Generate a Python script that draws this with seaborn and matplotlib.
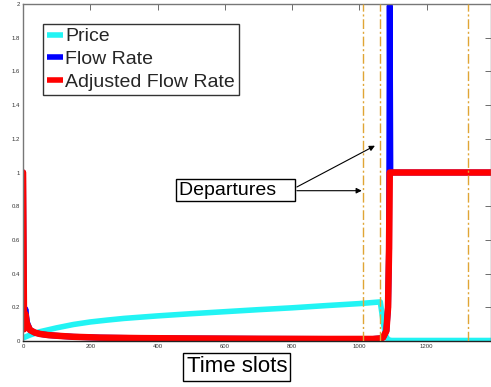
import matplotlib
matplotlib.use("Agg")
import matplotlib.pyplot as plt
import seaborn as sns

# Price signal over time slots
price_t = [0, 20, 50, 100, 150, 200, 250, 300, 400, 500, 600, 700, 800, 900,
           1000, 1062, 1070, 1078, 1085, 1095, 1391]
price_v = [0.018, 0.035, 0.055, 0.078, 0.098, 0.113, 0.124, 0.134, 0.149, 0.162,
           0.174, 0.186, 0.197, 0.21, 0.222, 0.232, 0.12, 0.03, 0.008, 0.003, 0.003]

# Flow rate (raw) over time slots
flow_t = [0, 3, 7, 12, 21, 35, 50, 75, 110, 150, 230, 350, 500, 700, 900, 1040,
          1060, 1070, 1080, 1085, 1088, 1090, 1092, 1391]
flow_v = [1.0, 0.07, 0.19, 0.11, 0.065, 0.05, 0.042, 0.035, 0.03, 0.025, 0.02,
          0.017, 0.015, 0.013, 0.012, 0.012, 0.015, 0.02, 0.06, 0.2, 0.55, 1.99,
          1.0, 1.0]

# Adjusted flow rate over time slots
adj_t = [0, 3, 7, 12, 21, 35, 50, 75, 110, 150, 230, 350, 500, 700, 900, 1040,
         1060, 1070, 1080, 1085, 1088, 1090, 1391]
adj_v = [1.0, 0.07, 0.16, 0.1, 0.065, 0.05, 0.042, 0.035, 0.03, 0.025, 0.02,
         0.017, 0.015, 0.013, 0.012, 0.012, 0.015, 0.02, 0.06, 0.2, 0.55, 1.0, 1.0]

# Departure instants marked by vertical lines
departures = [1010, 1061, 1322]

x_ticks = [0, 200, 400, 600, 800, 1000, 1200]
y_ticks = [0, 0.2, 0.4, 0.6, 0.8, 1, 1.2, 1.4, 1.6, 1.8, 2]
y_tick_labels = ["0", "0.2", "0.4", "0.6", "0.8", "1", "1.2", "1.4", "1.6", "1.8", "2"]

sns.set_theme(style="white")
plt.rcParams["font.family"] = ["Liberation Sans", "DejaVu Sans"]

fig = plt.figure(figsize=(4.91, 3.87), dpi=100)
fig.patch.set_facecolor("white")
ax = fig.add_axes([23 / 491, 1 - 341 / 387, (491 - 23) / 491, (341 - 4) / 387])

line_kw = dict(estimator=None, sort=False, solid_capstyle="round",
               solid_joinstyle="round")
sns.lineplot(x=price_t, y=price_v, ax=ax, color="#22F4F4", lw=4.0,
             label="Price", **line_kw)
sns.lineplot(x=flow_t, y=flow_v, ax=ax, color="#0000FF", lw=4.3,
             label="Flow Rate", **line_kw)
sns.lineplot(x=adj_t, y=adj_v, ax=ax, color="#FF0000", lw=4.7,
             label="Adjusted Flow Rate", **line_kw)

for d in departures:
    ax.axvline(d, color="#E0A535", lw=1.0, linestyle=(0, (7, 2, 1.5, 2)), zorder=5)

ax.set_xlim(0, 1391)
ax.set_ylim(0, 2)
ax.set_xticks(x_ticks)
ax.set_xticklabels([str(v) for v in x_ticks])
ax.set_yticks(y_ticks)
ax.set_yticklabels(y_tick_labels)
ax.tick_params(direction="in", length=4, width=0.6, labelsize=4.3,
               colors="#555555", labelcolor="#333333", top=True, right=True,
               pad=2)
for name, sp in ax.spines.items():
    sp.set_visible(True)
    sp.set_linewidth(1.0)
    sp.set_color("#777777")
ax.spines["bottom"].set_color("#222222")

leg = ax.legend(loc="upper left", bbox_to_anchor=(0.043, 0.941),
                borderaxespad=0, fontsize=14, frameon=True, fancybox=False,
                handlelength=0.8, handletextpad=0.15, labelspacing=0.26,
                borderpad=0.2)
leg.get_frame().set_edgecolor("black")
leg.get_frame().set_linewidth(1.0)
for h in leg.get_lines():
    h.set_linewidth(4.0)
    h.set_solid_capstyle("butt")

ax.set_xlabel("Time slots", fontsize=16, color="black",
              bbox=dict(boxstyle="square,pad=0.15", fc="white", ec="black", lw=1.0))
ax.xaxis.label.set_va("center")
ax.xaxis.set_label_coords(0.457, -0.077)

ax.annotate("Departures   ", xy=(1007, 0.892), xytext=(464, 0.896),
            ha="left", va="center", fontsize=14, color="black",
            bbox=dict(boxstyle="square,pad=0.15", fc="white", ec="black", lw=1.0))
ax.annotate("", xy=(1007, 0.892), xytext=(814, 0.892),
            arrowprops=dict(arrowstyle="-|>", color="black", lw=0.8,
                            mutation_scale=8, shrinkA=0, shrinkB=0))
ax.annotate("", xy=(1046, 1.159), xytext=(814, 0.914),
            arrowprops=dict(arrowstyle="-|>", color="black", lw=0.8,
                            mutation_scale=8, shrinkA=0, shrinkB=0))

fig.savefig("out.png", dpi=100, facecolor="white")
